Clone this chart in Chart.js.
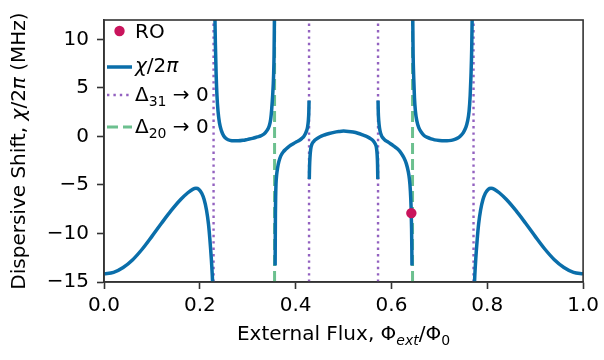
<!DOCTYPE html>
<html>
<head>
<meta charset="utf-8">
<script src="https://cdn.jsdelivr.net/npm/chart.js@4.4.1/dist/chart.umd.min.js"></script>
<style>
  html, body { margin: 0; padding: 0; background: #fff; }
  #wrap { width: 604px; height: 360px; position: relative; }
</style>
</head>
<body>
<div id="wrap"><canvas id="chiChart"></canvas></div>
<script>
// axis limits and ticks
const fluxMin = 0, fluxMax = 1;
const shiftMin = -15, shiftMax = 12;
const fluxTicks = [0, 0.2, 0.4, 0.6, 0.8, 1.0];
const shiftTicks = [-15, -10, -5, 0, 5, 10];

// chi/2pi branches (flux in Phi0, shift in MHz)
const branch1Flux = [0, 0.02, 0.04, 0.06, 0.08, 0.10, 0.12, 0.14, 0.16, 0.175, 0.185, 0.192, 0.198, 0.204, 0.209, 0.214, 0.218, 0.221, 0.224, 0.226, 0.2275];
const branch1Shift = [-14.15, -14.0, -13.5, -12.7, -11.6, -10.3, -8.95, -7.65, -6.5, -5.8, -5.45, -5.35, -5.45, -5.85, -6.5, -7.6, -9.0, -10.6, -12.6, -14.3, -16];

const branch2Flux = [0.2313, 0.2325, 0.234, 0.2357, 0.238, 0.241, 0.245, 0.250, 0.256, 0.263, 0.271, 0.280, 0.290, 0.300, 0.310, 0.320, 0.327, 0.334, 0.340, 0.345, 0.348, 0.350, 0.352, 0.354, 0.355, 0.3558];
const branch2Shift = [13, 9.5, 6.5, 4.3, 2.6, 1.4, 0.6, 0.05, -0.25, -0.4, -0.45, -0.45, -0.4, -0.3, -0.2, -0.05, 0.05, 0.25, 0.6, 1.1, 1.8, 2.8, 4.2, 6.3, 8.5, 12.5];

const branch3Flux = [0.3572, 0.3575, 0.3578, 0.3583, 0.359, 0.3605, 0.3625, 0.365, 0.369, 0.374, 0.380, 0.387, 0.395, 0.402, 0.408, 0.413, 0.417, 0.420, 0.423, 0.425, 0.4265, 0.4275, 0.428];
const branch3Shift = [-13.3, -10.5, -8.0, -6.2, -4.9, -3.9, -3.2, -2.6, -2.0, -1.6, -1.3, -1.0, -0.75, -0.55, -0.4, -0.2, 0.0, 0.25, 0.6, 1.0, 1.6, 2.5, 3.7];

const branch4Flux = [0.4285, 0.429, 0.430, 0.4315, 0.434, 0.438, 0.443, 0.450, 0.460, 0.470, 0.480, 0.490, 0.500, 0.510, 0.520, 0.530, 0.540, 0.550, 0.557, 0.562, 0.566, 0.5685, 0.570, 0.571, 0.5715];
const branch4Shift = [-4.4, -3.2, -2.1, -1.3, -0.8, -0.5, -0.28, -0.05, 0.15, 0.3, 0.42, 0.5, 0.55, 0.52, 0.45, 0.33, 0.15, -0.05, -0.25, -0.45, -0.75, -1.1, -1.8, -2.9, -4.4];

const branch5Flux = [0.572, 0.5725, 0.5735, 0.575, 0.577, 0.580, 0.583, 0.587, 0.592, 0.598, 0.605, 0.613, 0.620, 0.626, 0.631, 0.635, 0.6375, 0.6395, 0.641, 0.642, 0.6425, 0.6428];
const branch5Shift = [3.7, 2.5, 1.6, 0.9, 0.4, 0.0, -0.2, -0.4, -0.55, -0.75, -1.0, -1.3, -1.7, -2.2, -2.8, -3.6, -4.4, -5.6, -7.3, -9.5, -11.5, -13.3];

const branch6Flux = [0.6444, 0.6452, 0.6465, 0.648, 0.650, 0.653, 0.657, 0.662, 0.668, 0.675, 0.683, 0.690, 0.700, 0.710, 0.720, 0.729, 0.737, 0.744, 0.750, 0.755, 0.759, 0.762, 0.7643, 0.766, 0.7675, 0.7687];
const branch6Shift = [12.5, 8.5, 6.0, 4.0, 2.6, 1.6, 0.9, 0.45, 0.1, -0.1, -0.25, -0.35, -0.42, -0.45, -0.43, -0.35, -0.2, 0.05, 0.4, 0.9, 1.6, 2.6, 4.2, 6.3, 9.0, 13];

const branch7Flux = [0.7725, 0.774, 0.776, 0.779, 0.782, 0.786, 0.791, 0.796, 0.802, 0.808, 0.815, 0.825, 0.840, 0.860, 0.880, 0.900, 0.920, 0.940, 0.960, 0.980, 1.0];
const branch7Shift = [-16, -14.3, -12.6, -10.6, -9.0, -7.6, -6.5, -5.85, -5.45, -5.35, -5.45, -5.8, -6.5, -7.65, -8.95, -10.3, -11.6, -12.7, -13.5, -14.0, -14.15];

// resonance markers and readout point
const delta31Flux = [0.2287, 0.428, 0.572, 0.7713];
const delta20Flux = [0.356, 0.644];
const roFlux = [0.6415];
const roShift = [-7.9];

const BLUE = '#0a6eaa';
const PURPLE = '#9362c0';
const GREEN = 'rgba(45,165,95,0.7)';
const RED = '#c9145c';
const FONT = '"DejaVu Sans", sans-serif';

const pairs = (xs, ys) => xs.map((x, i) => ({ x: x, y: ys[i] }));

const branches = [
  [branch1Flux, branch1Shift], [branch2Flux, branch2Shift], [branch3Flux, branch3Shift],
  [branch4Flux, branch4Shift], [branch5Flux, branch5Shift], [branch6Flux, branch6Shift],
  [branch7Flux, branch7Shift],
];

const datasets = [];
datasets.push({
  label: 'RO', data: pairs(roFlux, roShift), showLine: false,
  pointRadius: 5.2, pointBackgroundColor: RED, pointBorderWidth: 0, clip: false,
});
branches.forEach(b => datasets.push({
  label: 'chi', data: pairs(b[0], b[1]), borderColor: BLUE, borderWidth: 3.5,
  pointRadius: 0, cubicInterpolationMode: 'monotone', borderCapStyle: 'butt', clip: 0,
}));
delta31Flux.forEach(f => datasets.push({
  label: 'd31', data: pairs([f, f], [shiftMin, shiftMax]), borderColor: PURPLE,
  borderWidth: 2.4, borderDash: [2.4, 4], pointRadius: 0, clip: 0,
}));
delta20Flux.forEach(f => datasets.push({
  label: 'd20', data: pairs([f, f], [shiftMin, shiftMax]), borderColor: GREEN,
  borderWidth: 3, borderDash: [11, 5], pointRadius: 0, clip: 0,
}));

// text made of runs: {t, it (italic), sub}
function runFont(r) {
  return (r.it ? 'italic ' : '') + (r.sub ? 14 : 20) + 'px ' + FONT;
}
function drawRuns(ctx, runs, x, y, align) {
  const w = runs.map(r => { ctx.font = runFont(r); return ctx.measureText(r.t).width; });
  let cx = align === 'center' ? x - w.reduce((a, b) => a + b, 0) / 2 : x;
  ctx.textAlign = 'left';
  ctx.textBaseline = 'alphabetic';
  runs.forEach((r, i) => {
    ctx.font = runFont(r);
    ctx.fillText(r.t, cx, y + (r.sub ? 4.5 : 0));
    cx += w[i];
  });
}

const decorations = {
  id: 'decorations',
  afterDraw(chart) {
    const { ctx, chartArea: a } = chart;
    ctx.save();
    ctx.strokeStyle = '#333';
    ctx.lineWidth = 1.6;
    ctx.strokeRect(a.left, a.top, a.right - a.left, a.bottom - a.top);
    ctx.fillStyle = '#000';

    // x title
    drawRuns(ctx, [
      { t: 'External Flux, Φ' }, { t: 'ext', it: true, sub: true },
      { t: '/Φ' }, { t: '0', sub: true },
    ], (a.left + a.right) / 2, 340, 'center');

    // y title
    ctx.save();
    ctx.translate(25, (a.top + a.bottom) / 2);
    ctx.rotate(-Math.PI / 2);
    drawRuns(ctx, [
      { t: 'Dispersive Shift, ' }, { t: 'χ', it: true }, { t: '/2' },
      { t: 'π', it: true }, { t: ' (MHz)' },
    ], 0, 0, 'center');
    ctx.restore();

    // legend
    const hx0 = 107, hx1 = 132, tx = 135;
    ctx.fillStyle = RED;
    ctx.beginPath();
    ctx.arc(119.5, 31, 5.2, 0, Math.PI * 2);
    ctx.fill();

    const handle = (y, color, width, dash) => {
      ctx.strokeStyle = color;
      ctx.lineWidth = width;
      ctx.setLineDash(dash);
      ctx.beginPath();
      ctx.moveTo(hx0, y);
      ctx.lineTo(hx1, y);
      ctx.stroke();
      ctx.setLineDash([]);
    };
    handle(67, BLUE, 3.5, []);
    handle(95, PURPLE, 2.4, [2.4, 4]);
    handle(127, GREEN, 3, [11, 5]);

    ctx.fillStyle = '#000';
    drawRuns(ctx, [{ t: 'RO' }], tx, 38, 'left');
    drawRuns(ctx, [{ t: 'χ', it: true }, { t: '/2' }, { t: 'π', it: true }], tx, 72, 'left');
    drawRuns(ctx, [{ t: 'Δ' }, { t: '31', sub: true }, { t: ' → 0' }], tx, 101, 'left');
    drawRuns(ctx, [{ t: 'Δ' }, { t: '20', sub: true }, { t: ' → 0' }], tx, 133, 'left');
    ctx.restore();
  }
};

const tickFont = { family: FONT, size: 20 };
const fmtShift = v => (v < 0 ? '\u2212' + Math.abs(v) : String(v));

new Chart(document.getElementById('chiChart'), {
  type: 'line',
  data: { datasets: datasets },
  options: {
    responsive: true,
    maintainAspectRatio: false,
    animation: false,
    layout: { padding: { left: 0, right: 16, top: 11, bottom: 0 } },
    plugins: { legend: { display: false }, tooltip: { enabled: false } },
    scales: {
      x: {
        type: 'linear', min: fluxMin, max: fluxMax,
        afterBuildTicks: s => { s.ticks = fluxTicks.map(v => ({ value: v })); },
        afterFit: s => { s.height = 78; },
        ticks: { font: tickFont, color: '#000', padding: 5, maxRotation: 0, callback: v => v.toFixed(1) },
        grid: { drawOnChartArea: false, tickLength: 7, tickWidth: 1.6, tickColor: '#333' },
        border: { color: '#333', width: 1.6 },
      },
      y: {
        type: 'linear', min: shiftMin, max: shiftMax,
        afterBuildTicks: s => { s.ticks = shiftTicks.map(v => ({ value: v })); },
        afterFit: s => { s.width = 104; },
        ticks: { font: tickFont, color: '#000', padding: 8, callback: fmtShift },
        grid: { drawOnChartArea: false, tickLength: 7, tickWidth: 1.6, tickColor: '#333' },
        border: { color: '#333', width: 1.6 },
      },
    },
  },
  plugins: [decorations],
});
</script>
</body>
</html>
